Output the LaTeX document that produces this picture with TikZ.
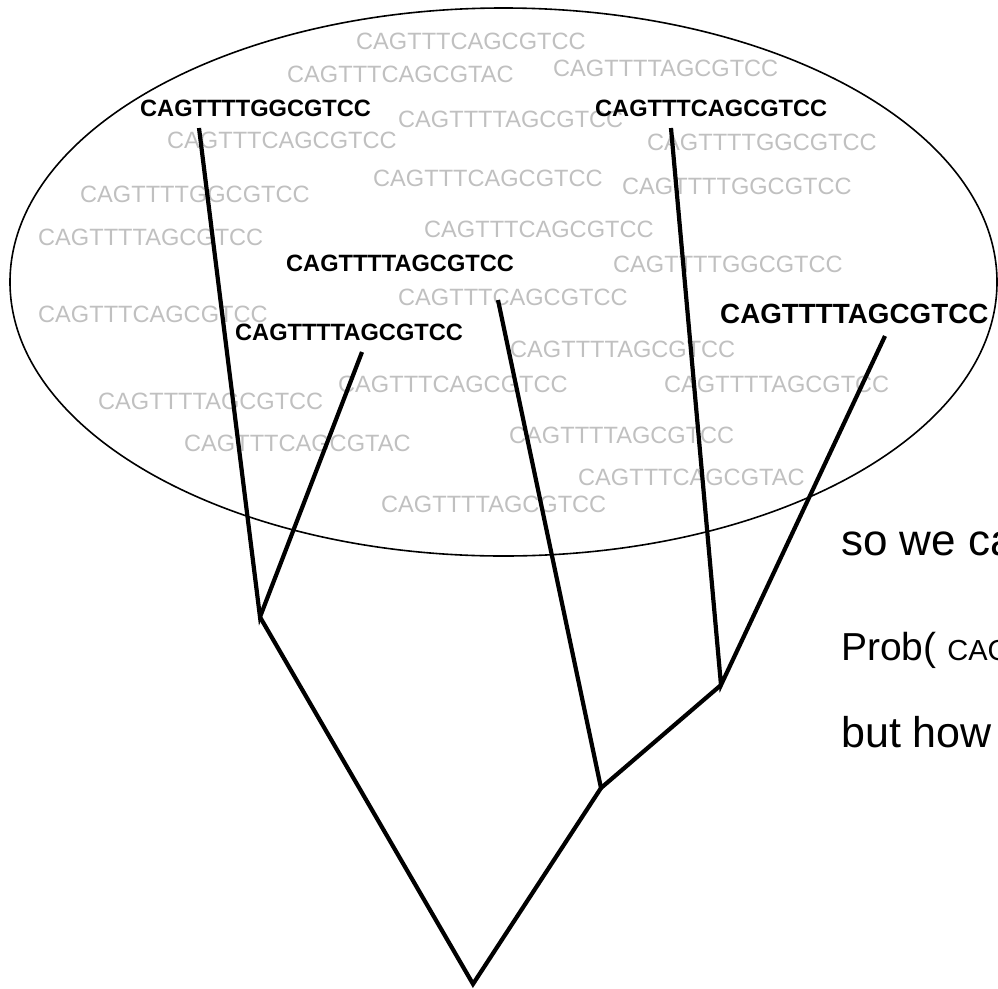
\documentclass[tikz,border=0pt]{standalone}
\usepackage{fontspec}
\setmainfont{Liberation Sans}
\usepackage{tikz}
\definecolor{grisseq}{RGB}{192,192,192}

\tikzset{
    seqgris/.style={anchor=west, inner sep=0pt, text=grisseq,
        font=\fontsize{23.6}{28}\selectfont},
    seqnegre/.style={anchor=west, inner sep=0pt, text=black,
        font=\bfseries\fontsize{23.6}{28}\selectfont},
    branca/.style={line width=4.2pt, black},
    frase/.style={anchor=base west, inner sep=0pt, text=black}
}

\begin{document}
\begin{tikzpicture}[x=1pt, y=-1pt]

\useasboundingbox (0,0) rectangle (998,988);
\clip (0,0) rectangle (998,988);

% Poblacio
\draw[line width=1.6pt] (503.5,282) ellipse [x radius=493.5, y radius=274];

% Sequencies de la mostra
\node[seqgris] (m1) at (356,41) {CAGTTTCAGCGTCC};
\node[seqgris] (m2) at (287,74) {CAGTTTCAGCGTAC};
\node[seqgris] (m3) at (553,68) {CAGTTTTAGCGTCC};
\node[seqgris] (m4) at (167,140) {CAGTTTCAGCGTCC};
\node[seqgris] (m5) at (398,119) {CAGTTTTAGCGTCC};
\node[seqgris] (m6) at (647,142) {CAGTTTTGGCGTCC};
\node[seqgris] (m7) at (80,194) {CAGTTTTGGCGTCC};
\node[seqgris] (m8) at (373,178) {CAGTTTCAGCGTCC};
\node[seqgris] (m9) at (622,186) {CAGTTTTGGCGTCC};
\node[seqgris] (m10) at (38,237) {CAGTTTTAGCGTCC};
\node[seqgris] (m11) at (424,229) {CAGTTTCAGCGTCC};
\node[seqgris] (m12) at (613,264) {CAGTTTTGGCGTCC};
\node[seqgris] (m13) at (38,314) {CAGTTTCAGCGTCC};
\node[seqgris] (m14) at (398,297) {CAGTTTCAGCGTCC};
\node[seqgris] (m15) at (510,349) {CAGTTTTAGCGTCC};
\node[seqgris] (m16) at (338,384) {CAGTTTCAGCGTCC};
\node[seqgris] (m17) at (664,384) {CAGTTTTAGCGTCC};
\node[seqgris] (m18) at (98,401) {CAGTTTTAGCGTCC};
\node[seqgris] (m19) at (184,443) {CAGTTTCAGCGTAC};
\node[seqgris] (m20) at (509,435) {CAGTTTTAGCGTCC};
\node[seqgris] (m21) at (578,477) {CAGTTTCAGCGTAC};
\node[seqgris] (m22) at (381,504) {CAGTTTTAGCGTCC};

% Fulles
\node[seqnegre] (f1) at (140,108) {CAGTTTTGGCGTCC};
\node[seqnegre] (f2) at (595,108) {CAGTTTCAGCGTCC};
\node[seqnegre] (f3) at (286,263) {CAGTTTTAGCGTCC};
\node[seqnegre] (f4) at (235,332) {CAGTTTTAGCGTCC};
\node[
    seqnegre,
    font=\bfseries\fontsize{27.8}{33}\selectfont
] (f5) at (720,314) {CAGTTTTAGCGTCC};

% Arbre
\coordinate (t1) at (199,128);
\coordinate (t2) at (362,352);
\coordinate (t3) at (498,300);
\coordinate (t4) at (671,128);
\coordinate (t5) at (885,336);
\coordinate (nA) at (260,617);
\coordinate (nB) at (601,788);
\coordinate (nC) at (721,685);
\coordinate (arrel) at (473,984);

\draw[branca] (t1) -- (nA) -- (t2);
\draw[branca] (nA) -- (arrel) -- (nB);
\draw[branca] (t3) -- (nB) -- (nC);
\draw[branca] (t4) -- (nC) -- (t5);

% Text
\node[frase, font=\fontsize{44}{50}\selectfont] (txt1) at (841,555) {so we ca};
\node[frase] (txt2) at (841,660)
    {{\fontsize{39}{46}\selectfont Prob( }{\fontsize{29}{34}\selectfont CAG}};
\node[frase, font=\fontsize{43}{50}\selectfont] (txt3) at (841,747) {but how};

\end{tikzpicture}
\end{document}
